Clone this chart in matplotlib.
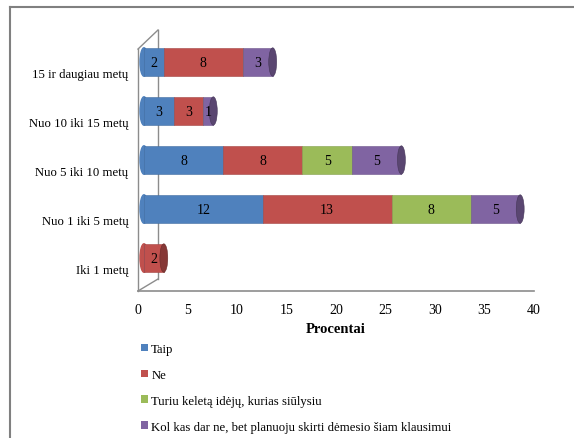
import matplotlib
matplotlib.use("Agg")
import matplotlib.pyplot as plt
import matplotlib.transforms as mtransforms
from matplotlib.patches import Ellipse, Patch
from matplotlib.lines import Line2D
import matplotlib.colors as mcolors
import numpy as np

categories = ["Iki 1 metų", "Nuo 1 iki 5 metų", "Nuo 5 iki 10 metų",
              "Nuo 10 iki 15 metų", "15 ir daugiau metų"]
series_names = ["Taip", "Ne", "Turiu keletą idėjų, kurias siūlysiu",
                "Kol kas dar ne, bet planuoju skirti dėmesio šiam klausimui"]
taip = [0, 12, 8, 3, 2]
ne = [2, 13, 8, 3, 8]
turiu = [0, 8, 5, 0, 0]
kol_kas = [0, 5, 5, 1, 3]
colors = ["#4F81BD", "#C0504D", "#9BBB59", "#8064A2"]
x_ticks = [0, 5, 10, 15, 20, 25, 30, 35, 40]

plt.rcParams["font.family"] = ["Liberation Serif", "DejaVu Serif"]

W, H = 574, 439
fig = plt.figure(figsize=(W / 100, H / 100), dpi=100)
ax = fig.add_axes([138 / W, (H - 292) / H, 396 / W, 261 / H])

def darker(c, f=0.7):
    r, g, b = mcolors.to_rgb(c)
    return (r * f, g * f, b * f)

# bars sit a little behind the front axis (3D look)
shift = mtransforms.ScaledTranslation(6 / 100, 0, fig.dpi_scale_trans)
bar_tr = ax.transData + shift

y = np.arange(len(categories))
bar_h = 0.58
data = [taip, ne, turiu, kol_kas]
left = np.zeros(len(categories))
totals = np.sum(data, axis=0)

# rounded left ends
for i in range(len(categories)):
    first = next(k for k in range(4) if data[k][i] > 0)
    ax.add_patch(Ellipse((0, y[i]), 0.8, bar_h, color=colors[first],
                         transform=bar_tr, zorder=2))

for k, vals in enumerate(data):
    vals = np.array(vals)
    ax.barh(y, vals, left=left, height=bar_h, color=colors[k],
            edgecolor=darker(colors[k], 0.85), linewidth=0.4,
            transform=bar_tr, zorder=3)
    for i, v in enumerate(vals):
        if v > 0:
            ax.text(left[i] + v / 2, y[i], str(v), ha="center", va="center",
                    fontsize=10, color="black", transform=bar_tr, zorder=5)
    left += vals

# right end caps
for i in range(len(categories)):
    last = max(k for k in range(4) if data[k][i] > 0)
    ax.add_patch(Ellipse((totals[i], y[i]), 0.8, bar_h,
                         facecolor=darker(colors[last]),
                         edgecolor=darker(colors[last], 0.55), linewidth=0.4,
                         transform=bar_tr, zorder=4))

ax.set_xlim(0, 40)
ax.set_ylim(-0.673, 4.653)
ax.set_xticks(x_ticks)
ax.set_xticklabels([str(t) for t in x_ticks], fontsize=10)
ax.set_yticks(y)
ax.set_yticklabels(categories, fontsize=9.2)
ax.tick_params(axis="both", length=0)
ax.tick_params(axis="x", pad=9)
ax.tick_params(axis="y", pad=7)
down = mtransforms.ScaledTranslation(0, -10 / 100, fig.dpi_scale_trans)
for lbl in ax.get_yticklabels():
    lbl.set_transform(lbl.get_transform() + down)

ax.set_xlabel("Procentai", fontsize=10.5, fontweight="bold", labelpad=4)

for s in ["top", "right", "left"]:
    ax.spines[s].set_visible(False)
ax.spines["bottom"].set_color("#8c8c8c")
ax.spines["bottom"].set_linewidth(1.2)
ax.patch.set_visible(False)

# walls of the 3D frame
gray = "#8c8c8c"
dx = 20 / 396
frame = [
    ([0, 0], [0, 0.927]),
    ([0, dx], [0.927, 1.0]),
    ([dx, dx], [0.046, 1.0]),
    ([0, dx], [0, 0.046]),
]
for xs, ys in frame:
    ax.add_line(Line2D(xs, ys, transform=ax.transAxes, color=gray,
                       linewidth=1.0, zorder=1, clip_on=False))

# outer chart border (top and left visible)
fig.add_artist(Line2D([10 / W, 1], [1 - 8 / H, 1 - 8 / H], color="#808080",
                      linewidth=1.5))
fig.add_artist(Line2D([10 / W, 10 / W], [0, 1 - 8 / H], color="#808080",
                      linewidth=1.5))

handles = [Patch(facecolor=c, edgecolor="none") for c in colors]
fig.legend(handles, series_names, loc="upper left",
           bbox_to_anchor=(141 / W, 1 - 344 / H), frameon=False,
           fontsize=9.2, handlelength=0.55, handleheight=0.55,
           handletextpad=0.25, labelspacing=1.09, borderaxespad=0,
           borderpad=0)

fig.savefig("out.png", dpi=100)
